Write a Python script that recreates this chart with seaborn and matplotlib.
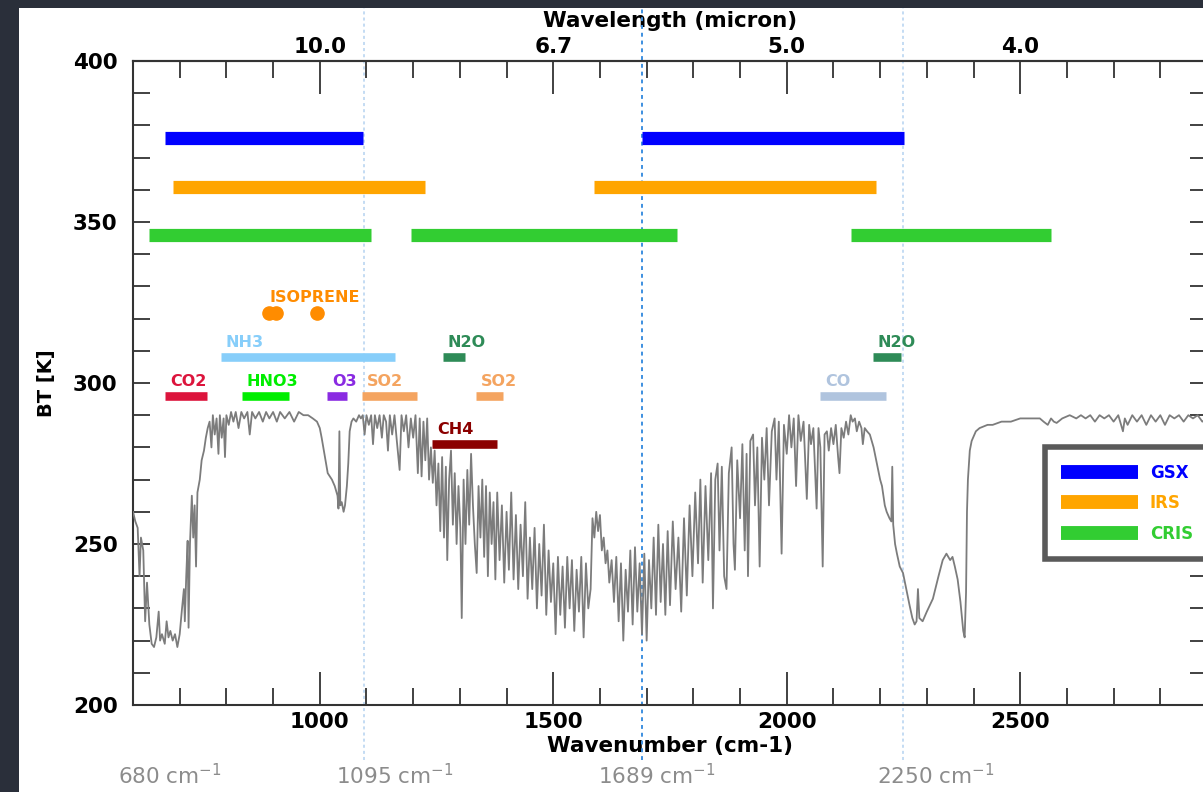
import matplotlib
matplotlib.use("Agg")
import pandas as pd
import matplotlib.pyplot as plt
import seaborn as sns
from matplotlib.lines import Line2D
from matplotlib.patches import Rectangle
from matplotlib.ticker import MultipleLocator, FuncFormatter

# spectrum: wavenumber (cm-1) and brightness temperature (K)
wavenumber = [
    600, 605, 610, 614, 617, 622, 626, 630, 635, 640, 645, 650, 655, 658, 662, 668, 672, 676, 680, 685,
    690, 695, 700, 705, 709, 711, 714, 717, 719, 722, 726, 729, 732, 735, 738, 743, 747, 752, 756, 760,
    764, 768, 771, 775, 779, 783, 786, 790, 794, 797, 800, 805, 810, 815, 820, 826, 832, 838, 845, 850,
    855, 862, 870, 878, 885, 892, 900, 908, 915, 925, 935, 945, 955, 965, 975, 985, 994, 1000, 1004, 1011,
    1017, 1026, 1032, 1038, 1040, 1042, 1044, 1047, 1051, 1054, 1058, 1061, 1064, 1068, 1072, 1078, 1084, 1088, 1092, 1096,
    1100, 1105, 1110, 1114, 1118, 1123, 1128, 1133, 1137, 1142, 1146, 1150, 1155, 1160, 1165, 1171, 1175, 1180, 1185, 1190,
    1195, 1200, 1205, 1210, 1214, 1218, 1222, 1226, 1230, 1234, 1238, 1242, 1246, 1250, 1254, 1258, 1262, 1266, 1270, 1273,
    1277, 1281, 1285, 1289, 1293, 1297, 1301, 1304, 1308, 1312, 1316, 1320, 1324, 1328, 1332, 1336, 1340, 1344, 1348, 1352,
    1356, 1360, 1364, 1368, 1372, 1376, 1380, 1385, 1390, 1395, 1400, 1405, 1410, 1415, 1420, 1425, 1430, 1435, 1440, 1445,
    1450, 1455, 1460, 1465, 1470, 1475, 1480, 1485, 1490, 1495, 1500, 1505, 1510, 1515, 1520, 1525, 1530, 1535, 1540, 1545,
    1550, 1555, 1560, 1565, 1570, 1575, 1580, 1584, 1588, 1592, 1596, 1600, 1604, 1608, 1612, 1616, 1620, 1625, 1630, 1635,
    1640, 1645, 1650, 1655, 1660, 1665, 1670, 1675, 1680, 1685, 1690, 1695, 1700, 1705, 1710, 1715, 1720, 1725, 1730, 1735,
    1740, 1745, 1750, 1756, 1762, 1768, 1774, 1780, 1786, 1792, 1798, 1804, 1810, 1815, 1820, 1826, 1832, 1838, 1842, 1847,
    1852, 1856, 1861, 1866, 1871, 1876, 1882, 1886, 1889, 1894, 1900, 1905, 1910, 1914, 1917, 1922, 1928, 1932, 1937, 1942,
    1947, 1952, 1957, 1962, 1968, 1974, 1978, 1983, 1989, 1994, 2000, 2005, 2010, 2015, 2020, 2025, 2030, 2036, 2043, 2048,
    2052, 2057, 2064, 2068, 2072, 2077, 2081, 2086, 2090, 2095, 2100, 2105, 2110, 2113, 2117, 2122, 2127, 2132, 2137, 2141,
    2146, 2150, 2155, 2160, 2163, 2167, 2172, 2178, 2186, 2193, 2200, 2204, 2210, 2214, 2220, 2224, 2226, 2228, 2232, 2236,
    2242, 2249, 2256, 2263, 2269, 2274, 2278, 2281, 2284, 2291, 2300, 2313, 2325, 2334, 2342, 2350, 2355, 2360, 2366, 2372,
    2378, 2381, 2384, 2386, 2388, 2392, 2396, 2405, 2413, 2430, 2441, 2460, 2480, 2500, 2520, 2542, 2550, 2559, 2566, 2572,
    2578, 2590, 2606, 2620, 2630, 2640, 2650, 2660, 2670, 2680, 2690, 2700, 2710, 2716, 2720, 2724, 2730, 2740, 2750, 2760,
    2770, 2780, 2790, 2800, 2810, 2820, 2830, 2840, 2850, 2860, 2870, 2880, 2890, 2900,
]
bt = [
    260, 257, 255, 240, 252, 248, 226, 238, 225, 219, 218, 221, 229, 220, 222, 219, 226, 221, 223, 220,
    222, 218, 222, 230, 236, 226, 240, 251, 224, 250, 265, 252, 262, 243, 266, 270, 276, 279, 283, 286,
    288, 280, 290, 284, 289, 278, 290, 283, 289, 277, 290, 287, 291, 288, 291, 286, 291, 289, 291, 284,
    291, 289, 291, 288, 291, 289, 291, 288, 291, 289, 291, 288, 291, 290, 290, 289, 288, 286, 283, 277,
    272, 270, 268, 265, 261, 285, 262, 263, 260, 262, 268, 275, 285, 288, 289, 288, 290, 289, 290, 284,
    290, 287, 290, 281, 290, 286, 290, 283, 290, 288, 279, 290, 284, 290, 282, 273, 290, 285, 290, 280,
    289, 283, 290, 272, 289, 271, 288, 276, 289, 270, 280, 269, 279, 262, 275, 254, 277, 252, 274, 245,
    270, 279, 256, 272, 250, 268, 255, 227, 270, 250, 273, 256, 278, 262, 250, 241, 268, 252, 270, 246,
    268, 240, 266, 250, 263, 239, 266, 245, 262, 238, 260, 242, 266, 239, 259, 236, 256, 240, 263, 233,
    252, 236, 255, 230, 250, 234, 256, 228, 248, 232, 244, 222, 246, 228, 243, 224, 246, 230, 245, 223,
    242, 229, 246, 221, 244, 230, 236, 258, 252, 260, 254, 259, 248, 252, 244, 248, 238, 245, 232, 246,
    226, 244, 220, 242, 229, 248, 225, 249, 229, 244, 222, 247, 220, 245, 230, 252, 228, 256, 232, 250,
    228, 254, 231, 257, 236, 252, 229, 258, 234, 262, 240, 266, 244, 270, 238, 268, 245, 272, 230, 270,
    275, 248, 274, 240, 236, 272, 280, 250, 242, 276, 258, 281, 248, 278, 240, 282, 284, 262, 280, 243,
    283, 270, 286, 262, 285, 289, 270, 288, 247, 287, 278, 290, 280, 289, 268, 290, 282, 288, 264, 287,
    281, 286, 261, 286, 280, 243, 284, 285, 279, 286, 281, 287, 277, 272, 286, 283, 288, 284, 290, 288,
    289, 285, 288, 286, 281, 286, 285, 284, 280, 275, 270, 268, 262, 260, 258, 257, 274, 256, 250, 247,
    243, 241, 236, 231, 227, 225, 226, 236, 227, 226, 229, 233, 240, 245, 247, 245, 246, 243, 239, 232,
    223, 221, 235, 260, 270, 279, 282, 285, 286, 287, 287, 288, 288, 289, 289, 289, 288, 287, 289, 288,
    287.6, 289, 290, 289, 290, 289, 290, 288, 290, 289, 290, 288, 290, 287, 285, 289, 287, 290, 288, 290,
    287, 290, 288, 290, 287, 290, 289, 290, 288, 290, 289, 290, 288, 289,
]

# instrument coverage: [start, end] in cm-1 per band, plotted at one BT level each
instruments = ["GSX", "IRS", "CRIS"]
inst_level = [376, 361, 346]
gsx_bands = [(668, 1093), (1689, 2252)]
irs_bands = [(685, 1225), (1587, 2191)]
cris_bands = [(634, 1109), (1195, 1764), (2137, 2565)]

# gas absorption regions
gas_names = ["CO2", "HNO3", "O3", "SO2", "SO2", "NH3", "N2O", "N2O", "CO", "CH4"]
gas_start = [668, 833, 1015, 1090, 1334, 788, 1263, 2184, 2071, 1240]
gas_end = [758, 934, 1058, 1208, 1392, 1161, 1310, 2244, 2212, 1379]
gas_level = [296, 296, 296, 296, 296, 308, 308, 308, 296, 281]
isoprene_wn = [891, 906, 993]
isoprene_level = 321.7

# reference channels marked under the axis
marker_wn = [680, 1095, 1689, 2250]

inst_colors = ["#0000ff", "#ffa500", "#32cd32"]
gas_colors = ["#dc143c", "#00ee00", "#8a2be2", "#f4a460", "#f4a460",
              "#87cefa", "#2e8b57", "#2e8b57", "#b0c4de", "#8b0000"]

sns.set_theme(style="ticks")
plt.rcParams["font.family"] = ["DejaVu Sans"]
plt.rcParams["text.color"] = "black"
plt.rcParams["axes.labelcolor"] = "black"
plt.rcParams["xtick.labelcolor"] = "black"
plt.rcParams["ytick.labelcolor"] = "black"

fig = plt.figure(figsize=(12.03, 7.92), dpi=100, facecolor="#2a2f3a")
bg = Rectangle((19 / 1203, 0), 1, 1 - 8 / 792, transform=fig.transFigure,
               facecolor="white", edgecolor="none", zorder=-10)
fig.patches.append(bg)
ax = fig.add_axes([133 / 1203, 87 / 792, 1074 / 1203, 644 / 792])
ax.set_facecolor("none")

df = pd.DataFrame({"wavenumber": wavenumber, "bt": bt})
sns.lineplot(data=df, x="wavenumber", y="bt", ax=ax, color="#7c7c7c", linewidth=1.3, zorder=3)

# dotted channel lines, running past the axes
for wn in marker_wn[1:]:
    dark = wn == 1689
    ax.axvline(wn, ymin=-0.085, ymax=1.082, clip_on=False,
               color="#3d8fe0" if dark else "#b4d2f0", linestyle=(0, (2, 2)),
               linewidth=1.4 if dark else 1.1, zorder=1)

# instrument bands
for bands, level, col in zip([gsx_bands, irs_bands, cris_bands], inst_level, inst_colors):
    for lo, hi in bands:
        ax.plot([lo, hi], [level, level], color=col, linewidth=9.5, solid_capstyle="butt", zorder=4)

# gases
for name, lo, hi, lev, col in zip(gas_names, gas_start, gas_end, gas_level, gas_colors):
    ax.plot([lo, hi], [lev, lev], color=col, linewidth=6.2, solid_capstyle="butt", zorder=4)
    ax.text(lo + 11, lev + 3.2, name, color=col, fontsize=11.5, fontweight="bold",
            va="baseline", ha="left", zorder=5)
ax.plot(isoprene_wn, [isoprene_level] * len(isoprene_wn), linestyle="none", marker="o",
        markersize=9.5, color="#ff8c00", zorder=4)
ax.text(isoprene_wn[0] + 2, isoprene_level + 3.4, "ISOPRENE", color="#ff8c00",
        fontsize=11.5, fontweight="bold", va="baseline", ha="left")

# gray channel captions below the axis
caption_x = [567, 1034, 1595, 2193]
for wn, cx in zip(marker_wn, caption_x):
    ax.text(cx, -0.109, f"{wn} cm$^{{-1}}$", transform=ax.get_xaxis_transform(),
            color="#8c8c8c", fontsize=15.5, ha="left", va="center")

ax.set_xlim(600, 2900)
ax.set_ylim(200, 400)
ax.xaxis.set_major_locator(MultipleLocator(500))
ax.xaxis.set_minor_locator(MultipleLocator(100))
ax.yaxis.set_major_locator(MultipleLocator(50))
ax.yaxis.set_minor_locator(MultipleLocator(10))
ax.tick_params(axis="x", which="major", direction="in", length=24, width=1.3, color="#333333",
               labelsize=15.5, pad=5)
ax.tick_params(axis="x", which="minor", direction="in", length=12, width=1.3, color="#333333")
ax.tick_params(axis="y", which="both", direction="in", length=12, width=1.3, color="#333333",
               right=True, labelsize=15.5, pad=11)
for lab in ax.get_xticklabels() + ax.get_yticklabels():
    lab.set_fontweight("bold")
ax.set_xlabel("Wavenumber (cm-1)", fontsize=15.5, fontweight="bold", labelpad=3)
ax.set_ylabel("BT [K]", fontsize=14, fontweight="bold", labelpad=12)
for sp in ax.spines.values():
    sp.set_color("#333333")
    sp.set_linewidth(1.5)

secax = ax.secondary_xaxis("top")
secax.xaxis.set_major_locator(MultipleLocator(500))
secax.xaxis.set_minor_locator(MultipleLocator(100))
secax.xaxis.set_major_formatter(FuncFormatter(lambda v, p: f"{10000 / v:.1f}" if v > 0 else ""))
secax.tick_params(axis="x", which="major", direction="in", length=24, width=1.3, color="#333333",
                  labelsize=15.5, pad=3)
secax.tick_params(axis="x", which="minor", direction="in", length=12, width=1.3, color="#333333")
for lab in secax.get_xticklabels():
    lab.set_fontweight("bold")
secax.set_xlabel("Wavelength (micron)", fontsize=15.5, fontweight="bold", labelpad=7)
secax.spines["top"].set_color("#333333")
secax.spines["top"].set_linewidth(1.5)

handles = [Line2D([0], [0], color=c, linewidth=10, solid_capstyle="butt") for c in inst_colors]
leg = ax.legend(handles, instruments, loc="upper left", bbox_to_anchor=(0.849, 0.4006),
                borderaxespad=0, fontsize=12, handlelength=4.6, handletextpad=0.7,
                borderpad=1.0, labelspacing=0.75, fancybox=False, framealpha=1)
leg.get_frame().set_edgecolor("#5a5a5a")
leg.get_frame().set_linewidth(4)
for txt, c in zip(leg.get_texts(), inst_colors):
    txt.set_color(c)
    txt.set_fontweight("bold")

fig.savefig("out.png", dpi=100, facecolor=fig.get_facecolor())
